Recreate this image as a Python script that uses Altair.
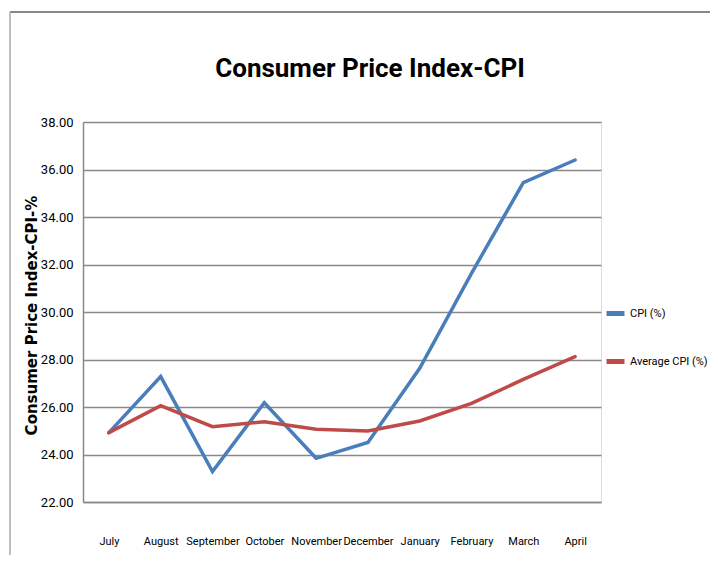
import altair as alt
import pandas as pd

months = ["July", "August", "September", "October", "November", "December",
          "January", "February", "March", "April"]
cpi = [24.92, 27.28, 23.28, 26.18, 23.84, 24.51, 27.63, 31.63, 35.45, 36.40]
avg_cpi = [24.92, 26.06, 25.17, 25.38, 25.06, 24.99, 25.41, 26.15, 27.16, 28.12]
series_names = ["CPI (%)", "Average CPI (%)"]
series_colors = ["#4A7EBB", "#BE4B48"]

rows = []
for name, vals in zip(series_names, [cpi, avg_cpi]):
    for m, v in zip(months, vals):
        rows.append({"Month": m, "Value": v, "Series": name})
df = pd.DataFrame(rows)

FONT = "Roboto, Liberation Sans, sans-serif"

base = alt.Chart(df)

lines = base.mark_line(strokeWidth=3.5, strokeCap="round").encode(
    x=alt.X("Month:N", sort=months, scale=alt.Scale(paddingOuter=0.5),
            axis=alt.Axis(title=None, labelAngle=0, labelFont=FONT, labelFontSize=11,
                          labelColor="#000000", labelPadding=33, ticks=False,
                          domainColor="#888888", domainWidth=1.5, grid=False)),
    y=alt.Y("Value:Q", scale=alt.Scale(domain=[22, 38], nice=False, zero=False),
            axis=alt.Axis(title="Consumer Price Index-CPI-%", values=list(range(22, 40, 2)),
                          format=".2f", labelFont=FONT, labelFontSize=13, labelColor="#000000",
                          labelPadding=10, ticks=False, domainColor="#888888", domainWidth=1.5,
                          gridColor="#888888", gridWidth=1.5, gridOpacity=1,
                          titleFont="DejaVu Sans", titleFontWeight="bold", titleFontSize=15,
                          titleColor="#000000", titleX=-52, titleY=193, titleAngle=-90,
                          titleAlign="center", titleBaseline="middle")),
    color=alt.Color("Series:N", sort=series_names,
                    scale=alt.Scale(domain=series_names, range=series_colors),
                    legend=alt.Legend(title=None, orient="none", legendX=521, legendY=180,
                                      symbolType="stroke", symbolSize=324, symbolStrokeWidth=5,
                                      rowPadding=26, labelFont=FONT, labelFontSize=11,
                                      labelColor="#000000", labelOffset=3)),
    order=alt.Order("Series:N", sort="descending"),
)

frame_top = alt.Chart().mark_rule(color="#888888", strokeWidth=2).encode(
    x=alt.value(-73), x2=alt.value(630), y=alt.value(-110))
frame_left = alt.Chart().mark_rule(color="#aaaaaa", strokeWidth=1.5).encode(
    x=alt.value(-73), y=alt.value(-110), y2=alt.value(441))

chart = alt.layer(lines, frame_top, frame_left).properties(
    width=518, height=380,
    title=alt.TitleParams("Consumer Price Index-CPI", font=FONT, fontSize=26,
                          fontWeight="bold", color="#000000", offset=-71, dx=28,
                          anchor="middle"),
    autosize=alt.AutoSizeParams(type="none"),
    padding={"left": 75, "top": 114, "right": 109, "bottom": 53},
).configure_view(stroke=None).configure(background="white")

chart.save("out.html", embed_options={"renderer": "svg", "actions": False})
